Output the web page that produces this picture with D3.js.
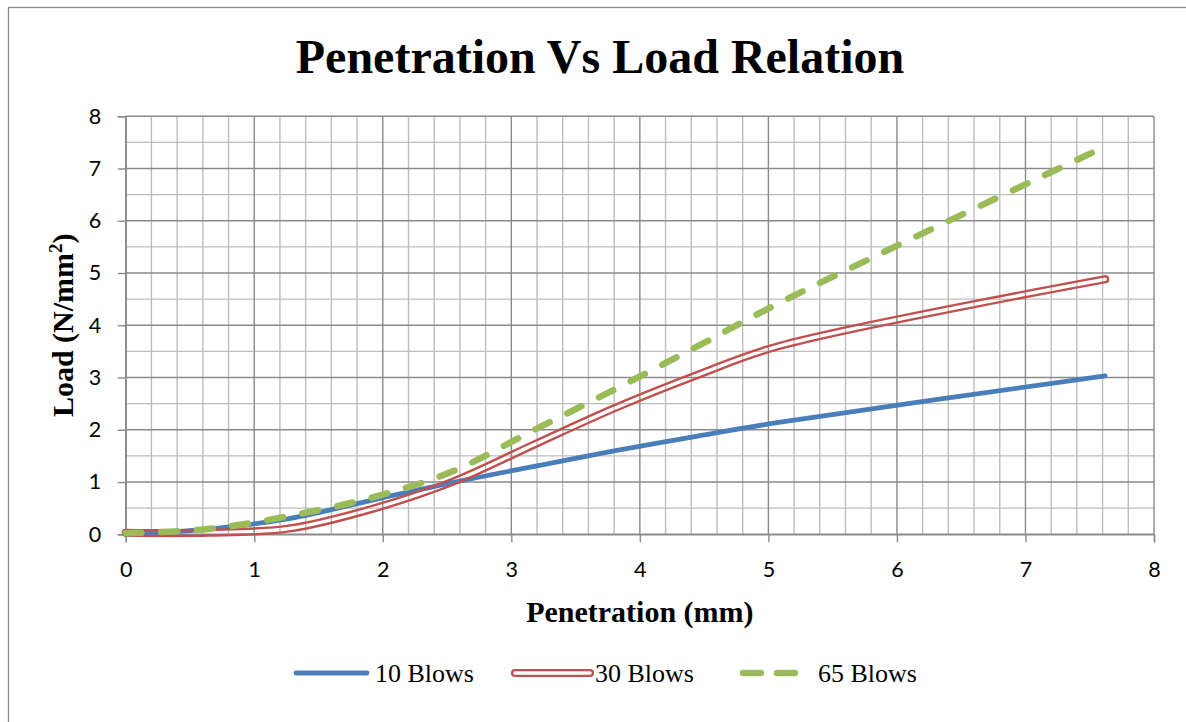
<!DOCTYPE html>
<html><head><meta charset="utf-8">
<script src="https://cdn.jsdelivr.net/npm/d3@7"></script>
<style>body{margin:0;background:#fff;} svg{display:block}</style>
</head><body><svg id="c" width="1186" height="722"></svg>
<script>
// ---- data ----
const penetration = [0, 0.64, 1.27, 1.91, 2.54, 3.18, 3.81, 4.45, 5.08, 7.62];
const blows10 = [0.00, 0.10, 0.30, 0.65, 0.99, 1.30, 1.60, 1.88, 2.14, 3.03];
const blows30 = [0.03, 0.03, 0.11, 0.48, 1.00, 1.72, 2.42, 3.05, 3.60, 4.88];
const blows65 = [0.02, 0.10, 0.35, 0.70, 1.20, 2.00, 2.78, 3.60, 4.42, 7.42];
const seriesNames = ["10 Blows", "30 Blows", "65 Blows"];
const xTicks = [0, 1, 2, 3, 4, 5, 6, 7, 8];
const yTicks = [0, 1, 2, 3, 4, 5, 6, 7, 8];
const chartTitle = "Penetration Vs Load Relation";
const xTitle = "Penetration (mm)";

// ---- layout ----
const svg = d3.select("#c");
const L = 125.7, R = 1154, T = 116.2, B = 534.3;
const x = d3.scaleLinear().domain([0, 8]).range([L, R]);
const y = d3.scaleLinear().domain([0, 8]).range([B, T]);

// outer border
svg.append("rect").attr("x", 8.5).attr("y", 7.5).attr("width", 1200).attr("height", 740)
  .attr("fill", "#fff").attr("stroke", "#8c8c8c").attr("stroke-width", 1.3);

// minor grid
const g = svg.append("g");
const minorX = d3.range(0, 8.0001, 0.2).filter(v => Math.abs(v - Math.round(v)) > 1e-6);
const minorY = d3.range(0, 8.0001, 0.5).filter(v => Math.abs(v - Math.round(v)) > 1e-6);
g.selectAll(".mx").data(minorX).join("line")
  .attr("x1", d => x(d)).attr("x2", d => x(d)).attr("y1", T).attr("y2", B)
  .attr("stroke", "#bdbdbd").attr("stroke-width", 1.4);
g.selectAll(".my").data(minorY).join("line")
  .attr("y1", d => y(d)).attr("y2", d => y(d)).attr("x1", L).attr("x2", R)
  .attr("stroke", "#bdbdbd").attr("stroke-width", 1.4);
// major grid
g.selectAll(".Mx").data(xTicks).join("line")
  .attr("x1", d => x(d)).attr("x2", d => x(d)).attr("y1", T).attr("y2", B)
  .attr("stroke", "#8a8a8a").attr("stroke-width", 1.4);
g.selectAll(".My").data(yTicks).join("line")
  .attr("y1", d => y(d)).attr("y2", d => y(d)).attr("x1", L).attr("x2", R)
  .attr("stroke", "#8a8a8a").attr("stroke-width", 1.4);

// axes
const tickFont = "Lato, 'Open Sans', sans-serif";
const ax = svg.append("g").attr("transform", `translate(0,${B})`)
  .call(d3.axisBottom(x).tickValues(xTicks).tickSize(8).tickPadding(19.5).tickFormat(d3.format("d")));
const ay = svg.append("g").attr("transform", `translate(${L},0)`)
  .call(d3.axisLeft(y).tickValues(yTicks).tickSize(8).tickPadding(16.5).tickFormat(d3.format("d")));
[ax, ay].forEach(a => {
  a.select(".domain").attr("stroke", "#8a8a8a").attr("stroke-width", 1.4);
  a.selectAll(".tick line").attr("stroke", "#8a8a8a").attr("stroke-width", 1.4);
  a.selectAll(".tick text").attr("font-family", tickFont).attr("font-size", 21.5).attr("fill", "#000");
});

// ---- series ----
const line = d3.line().x(d => x(d[0])).y(d => y(d[1])).curve(d3.curveCatmullRom.alpha(0.5));
const s10 = penetration.map((p, i) => [p, blows10[i]]);
const s30 = penetration.map((p, i) => [p, blows30[i]]);
const s65 = penetration.map((p, i) => [p, blows65[i]]);

const defs = svg.append("defs");
function doubleMask(id, dAttr, inner) {
  const m = defs.append("mask").attr("id", id).attr("maskUnits", "userSpaceOnUse")
    .attr("x", 0).attr("y", 0).attr("width", 1186).attr("height", 722);
  m.append("rect").attr("width", 1186).attr("height", 722).attr("fill", "#fff");
  m.append("path").attr("d", dAttr).attr("fill", "none").attr("stroke", "#000")
    .attr("stroke-width", inner).attr("stroke-linecap", "round").attr("stroke-linejoin", "round");
}

svg.append("path").attr("d", line(s10)).attr("fill", "none").attr("stroke", "#4a7ebb")
  .attr("stroke-width", 4.8).attr("stroke-linecap", "round").attr("stroke-linejoin", "round");

const d30 = line(s30);
doubleMask("m30", d30, 3.4);
svg.append("path").attr("d", d30).attr("fill", "none").attr("stroke", "#c0504d")
  .attr("stroke-width", 8.2).attr("stroke-linecap", "round").attr("stroke-linejoin", "round")
  .attr("mask", "url(#m30)");

svg.append("path").attr("d", line(s65)).attr("fill", "none").attr("stroke", "#9bbb59")
  .attr("stroke-width", 6.5).attr("stroke-linecap", "round").attr("stroke-linejoin", "round")
  .attr("stroke-dasharray", "16,19.6");

// ---- titles ----
const serif = "'Liberation Serif', 'Times New Roman', serif";
svg.append("text").attr("x", 600).attr("y", 73).attr("text-anchor", "middle")
  .attr("font-family", serif).attr("font-weight", "bold").attr("font-size", 48).text(chartTitle);
svg.append("text").attr("x", (L + R) / 2).attr("y", 621.5).attr("text-anchor", "middle")
  .attr("font-family", serif).attr("font-weight", "bold").attr("font-size", 30).text(xTitle);
const yt = svg.append("text").attr("transform", `translate(73,${(T + B) / 2}) rotate(-90)`)
  .attr("text-anchor", "middle").attr("font-family", serif).attr("font-weight", "bold").attr("font-size", 30);
yt.append("tspan").text("Load (N/mm");
yt.append("tspan").attr("font-size", 19).attr("dy", -11).text("2");
yt.append("tspan").attr("dy", 11).text(")");

// ---- legend ----
const lg = svg.append("g");
const legY = 673;
lg.append("line").attr("x1", 296).attr("x2", 367).attr("y1", legY).attr("y2", legY)
  .attr("stroke", "#4a7ebb").attr("stroke-width", 4.8).attr("stroke-linecap", "round");
const dLeg = `M515,${legY}L590,${legY}`;
doubleMask("mleg", dLeg, 3.4);
lg.append("path").attr("d", dLeg).attr("stroke", "#c0504d").attr("stroke-width", 8.2)
  .attr("stroke-linecap", "round").attr("mask", "url(#mleg)");
lg.append("line").attr("x1", 743).attr("x2", 795).attr("y1", legY).attr("y2", legY)
  .attr("stroke", "#9bbb59").attr("stroke-width", 6.5).attr("stroke-linecap", "round")
  .attr("stroke-dasharray", "18,16");
const legX = [375, 595, 818];
lg.selectAll("text.leg").data(seriesNames).join("text").attr("class", "leg")
  .attr("x", (d, i) => legX[i]).attr("y", 681.5)
  .attr("font-family", serif).attr("font-size", 26).attr("fill", "#000").text(d => d);
</script></body></html>
